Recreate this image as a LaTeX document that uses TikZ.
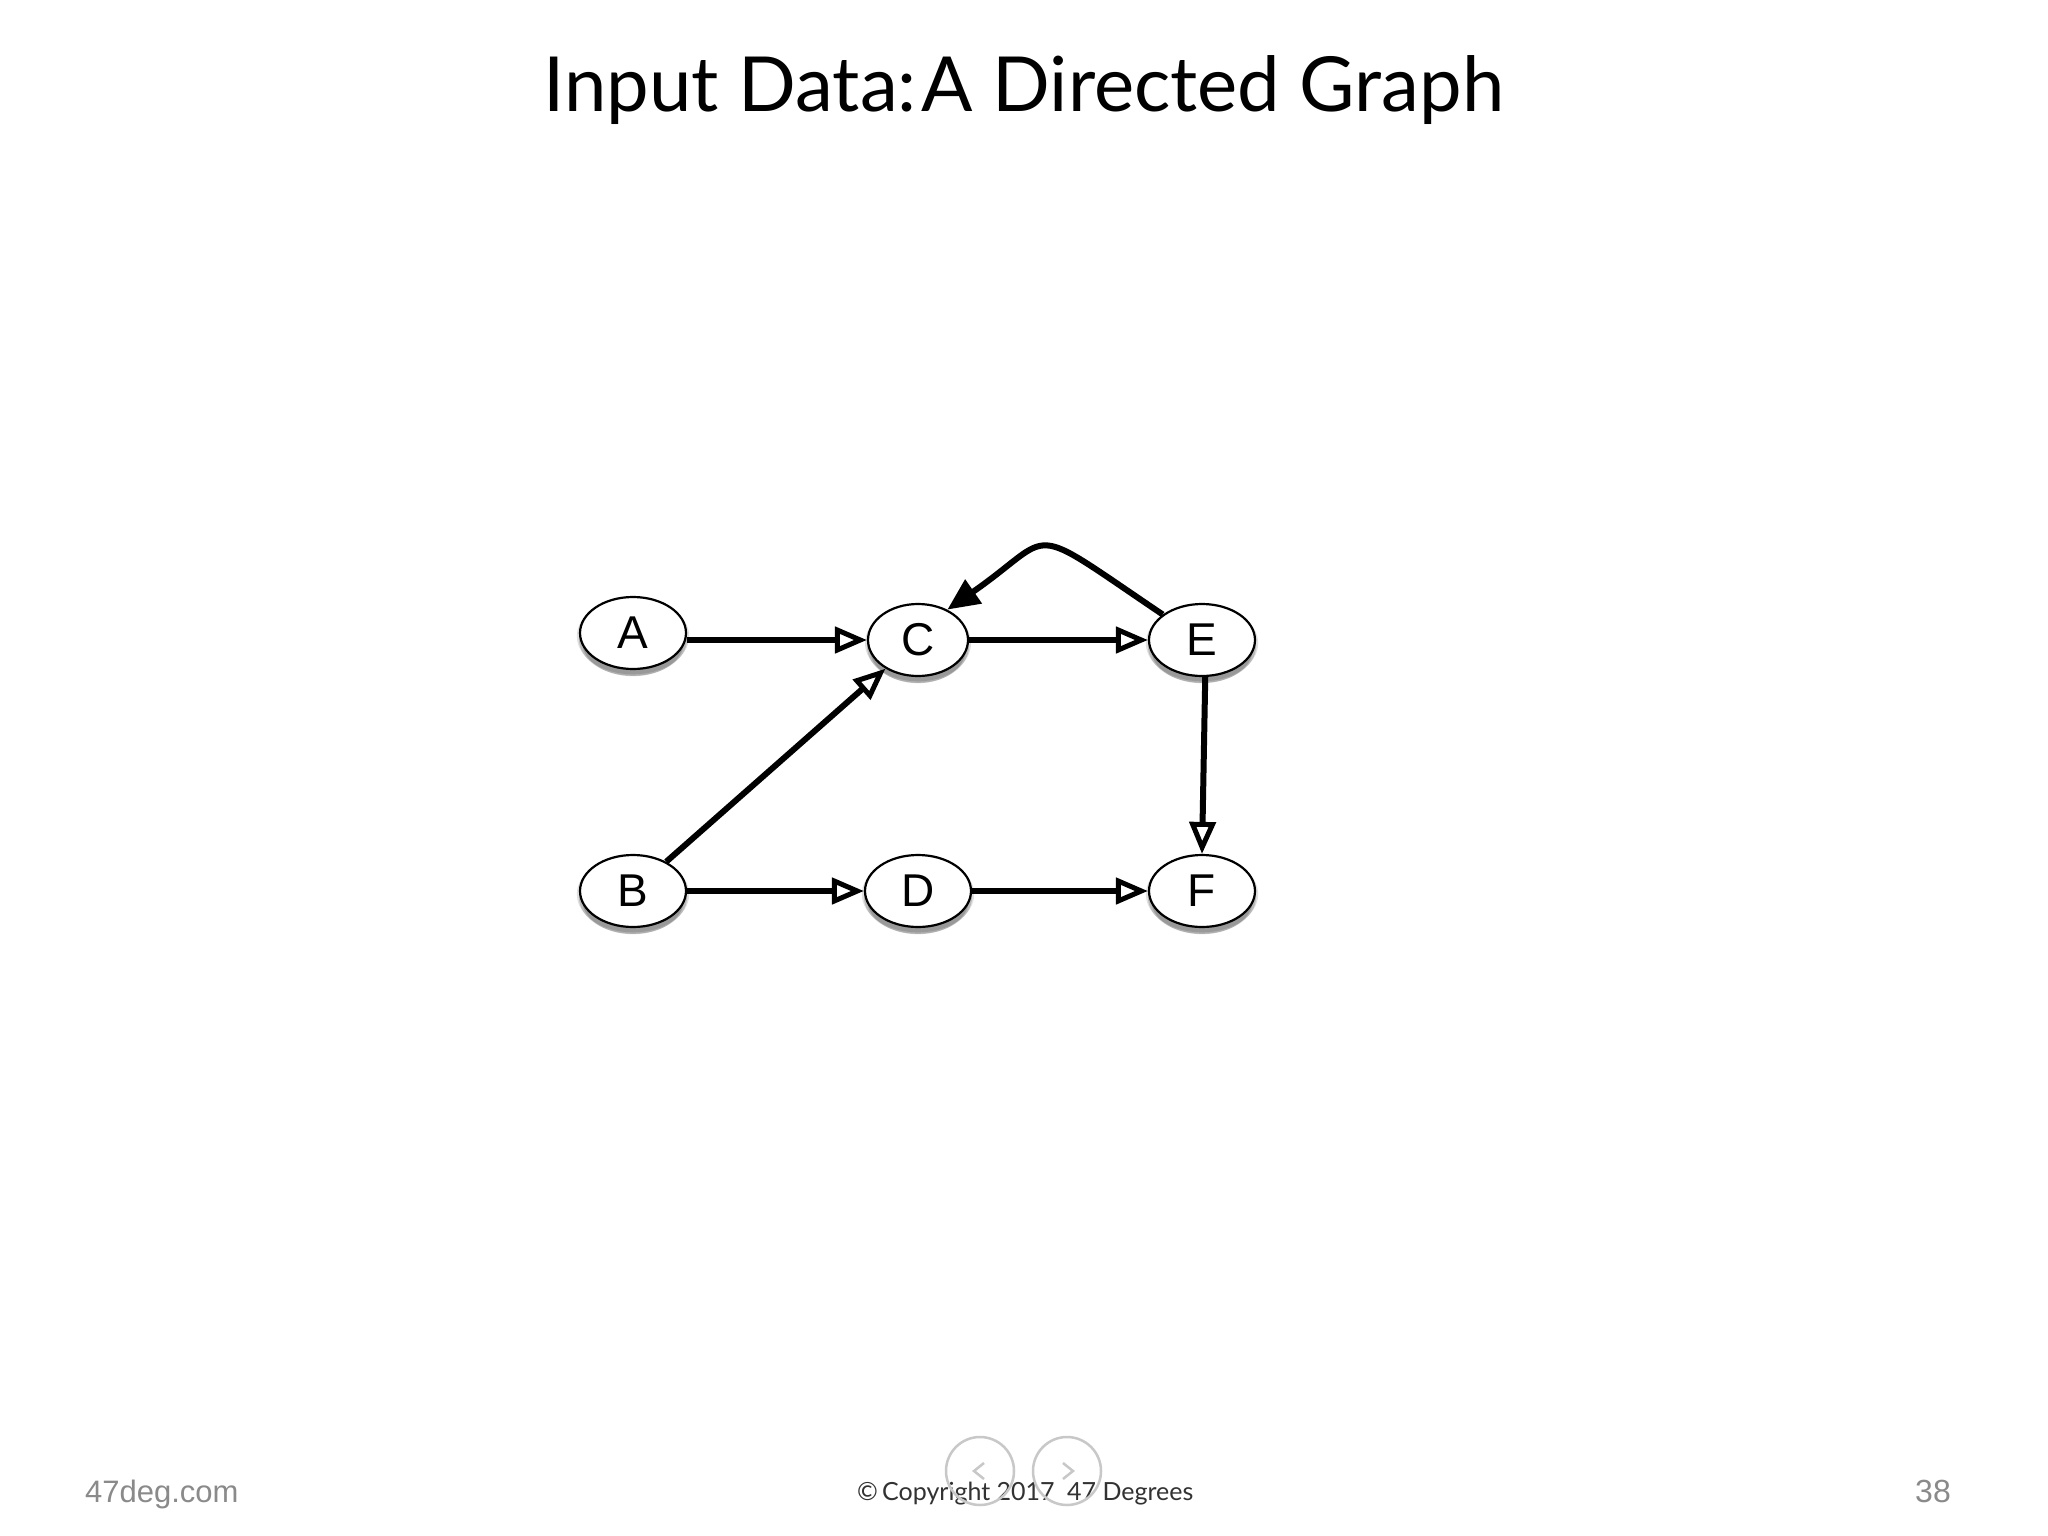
\documentclass[tikz,border=0pt]{standalone}
\usepackage{fontspec}
\setmainfont{Liberation Sans}
\newfontfamily\titlefont{Lato}
\usetikzlibrary{shapes.geometric,arrows.meta,shadows}
\definecolor{footgray}{RGB}{138,138,138}
\definecolor{copygray}{RGB}{50,50,50}
\definecolor{navgray}{RGB}{200,200,200}
\tikzset{
  softshadow/.style={
    general shadow={shadow yshift=-3pt, fill=black, opacity=0.12, shadow scale=1.06},
    general shadow={shadow yshift=-6pt, fill=black, opacity=0.16, shadow scale=1.02},
    general shadow={shadow yshift=-9pt, fill=black, opacity=0.18, shadow scale=0.96}},
  gnode/.style={ellipse, draw=black, line width=2.2pt, fill=white,
    minimum width=106pt, minimum height=72pt, inner sep=0pt,
    font=\fontsize{46}{46}\selectfont, softshadow},
  openedge/.style={line width=6pt,
    -{Triangle[open, length=32pt, width=26pt, line width=5pt]}},
  fulledge/.style={line width=6pt, -{Triangle[length=32pt, width=28pt]}},
  navbtn/.style={circle, draw=navgray, line width=2.5pt, minimum size=68pt, inner sep=0pt},
  chev/.style={draw=navgray, line width=2.5pt}
}
\begin{document}
\begin{tikzpicture}[x=1pt,y=-1pt]
\useasboundingbox[fill=white] (0,0) rectangle (2048,1536);

% title
\node[anchor=base, inner sep=0pt, font=\titlefont\fontsize{76}{76}\selectfont] (title) at (1024,112) {Input Data:\kern5pt A Directed Graph};

% nodes
\node[gnode] (A) at (633,633) {A};
\node[gnode, minimum width=100pt] (C) at (918,640) {C};
\node[gnode] (E) at (1202,640) {E};
\node[gnode] (B) at (633,891) {B};
\node[gnode] (D) at (918,891) {D};
\node[gnode] (F) at (1202,891) {F};

% edges
\draw[openedge] (A.east |- C.west) -- (C.west);
\draw[openedge] (C.east) -- (E.west);
\draw[openedge] (B.east) -- (D.west);
\draw[openedge] (D.east) -- (F.west);
\draw[openedge] (B) -- (C);
\draw[openedge] (E.-85) -- (F.north);
\draw[fulledge] (E.147) .. controls +(-141,-95) and +(111,-77) .. (C.46);

% footer
\node[anchor=base west, inner sep=0pt, text=footgray, font=\fontsize{31}{31}\selectfont] (site) at (85,1502) {47deg.com};
\node[anchor=base east, inner sep=0pt, text=footgray, font=\fontsize{32}{32}\selectfont] (page) at (1951,1502) {38};
\node[anchor=base west, inner sep=0pt, text=copygray, font=\titlefont\fontsize{25}{25}\selectfont] (copy) at (857,1500) {©\,Copyright 2017\enspace 47 Degrees};

% navigation buttons
\node[navbtn] (prev) at (980,1471) {};
\node[navbtn] (next) at (1067,1471) {};
\draw[chev] ([shift={(4,-8)}]prev.center) -- ([shift={(-6,0)}]prev.center) -- ([shift={(4,8)}]prev.center);
\draw[chev] ([shift={(-4,-8)}]next.center) -- ([shift={(6,0)}]next.center) -- ([shift={(-4,8)}]next.center);
\end{tikzpicture}
\end{document}
